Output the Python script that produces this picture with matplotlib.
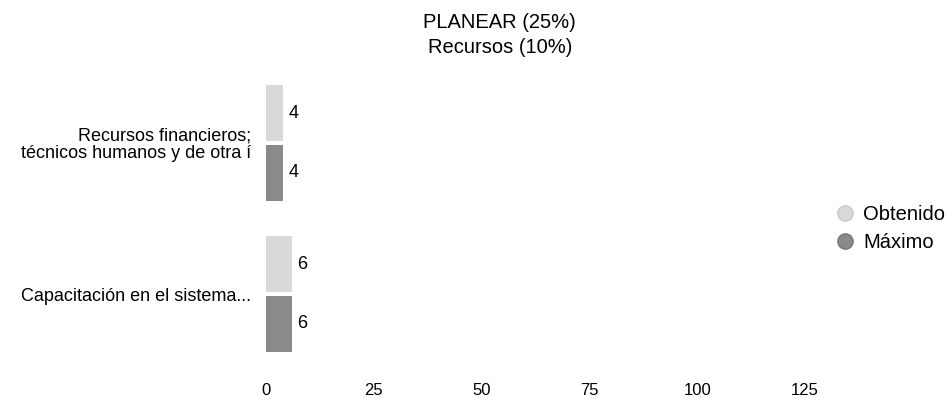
import numpy as np
import matplotlib
matplotlib.use("Agg")
import matplotlib.pyplot as plt
from matplotlib.lines import Line2D

plt.rcParams['font.family'] = ['Liberation Sans', 'DejaVu Sans']

# data
categories = ['Capacitación en el sistema...',
              'Recursos financieros;\ntécnicos humanos y de otra í']
obtenido = [6, 4]
maximo = [6, 4]
series_names = ['Obtenido', 'Máximo']
xticks = [0, 25, 50, 75, 100, 125]

col_obt = '#d9d9d9'
col_max = '#8a8a8a'

fig = plt.figure(figsize=(9.5, 4.08), dpi=100)
ax = fig.add_axes([0.28, 0.078, 0.59, 0.726])

y = np.arange(len(categories))
h = 0.37
bars_o = ax.barh(y + h / 2 + 0.012, obtenido, height=h, color=col_obt,
                 edgecolor='none')
bars_m = ax.barh(y - h / 2 - 0.012, maximo, height=h, color=col_max,
                 edgecolor='none')
ax.bar_label(bars_o, padding=4, fontsize=13)
ax.bar_label(bars_m, padding=4, fontsize=13)

ax.set_xlim(0, 130)
ax.set_ylim(-0.543, 1.417)
ax.set_xticks(xticks)
ax.set_xticklabels([str(t) for t in xticks], fontsize=12)
ax.set_yticks(y)
ax.set_yticklabels(categories, fontsize=13, ha='right', linespacing=1.0)
ax.tick_params(axis='both', length=0)
ax.tick_params(axis='x', pad=5)
ax.tick_params(axis='y', pad=11)
for s in ax.spines.values():
    s.set_visible(False)

ax.set_title('PLANEAR (25%)\nRecursos (10%)', fontsize=14.5, x=0.417,
             pad=19.5, linespacing=1.4)

handles = [Line2D([], [], marker='o', linestyle='none', markersize=11,
                  markerfacecolor=col_obt, markeredgecolor='#c8c8c8'),
           Line2D([], [], marker='o', linestyle='none', markersize=11,
                  markerfacecolor=col_max, markeredgecolor='#777777')]
fig.legend(handles, series_names, loc='center left',
           bbox_to_anchor=(0.879, 0.439), frameon=False, fontsize=14.5,
           handlelength=1.0, handletextpad=0.4, labelspacing=0.45,
           borderpad=0, borderaxespad=0)

fig.savefig('out.png', dpi=100, facecolor='white')
